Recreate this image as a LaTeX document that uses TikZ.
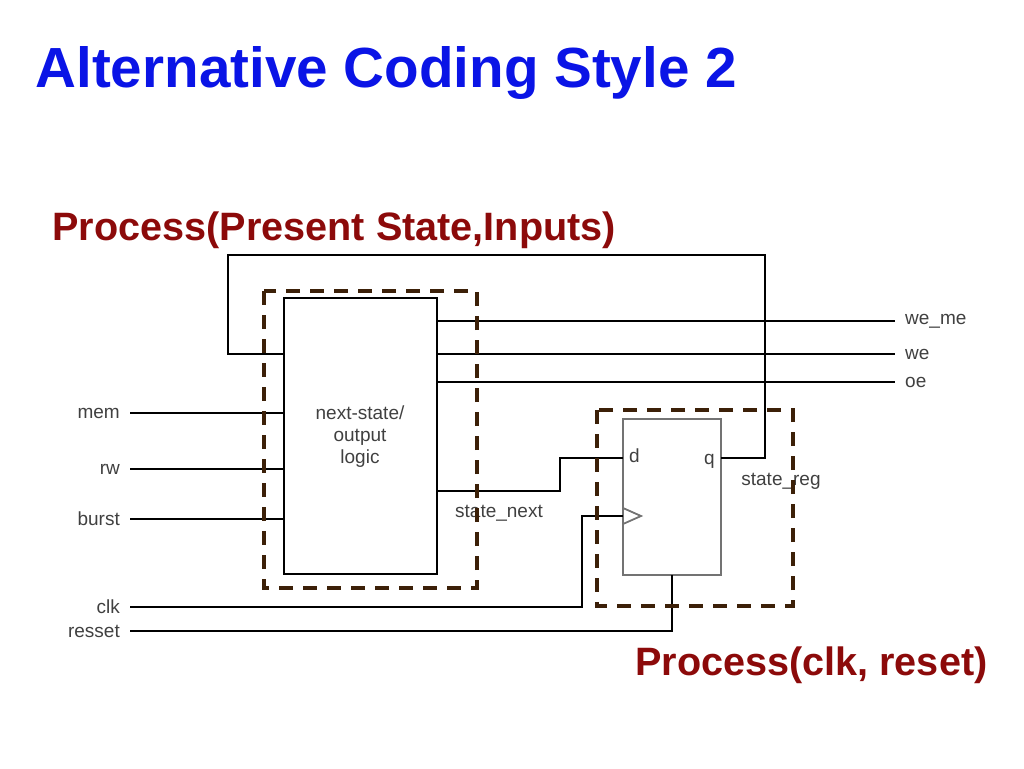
\documentclass[tikz,border=0pt]{standalone}
\usepackage{fontspec}
\setmainfont{Liberation Sans}
\usetikzlibrary{positioning}
\definecolor{titleblue}{RGB}{10,20,230}
\definecolor{procred}{RGB}{140,10,10}
\definecolor{dashbrown}{RGB}{60,32,8}
\tikzset{
    wire/.style={line width=2.2pt},
    grouping/.style={dashbrown,line width=3.2pt,dash pattern=on 14pt off 10pt},
    sig/.style={font=\fontsize{19}{22}\selectfont,text=black!75,inner sep=2pt}
}
\begin{document}
\begin{tikzpicture}[x=1pt,y=-1pt]
    \useasboundingbox (0,0) rectangle (1024,768);
    % headings
    \node[anchor=west,text=titleblue,font=\fontsize{56.6}{62}\selectfont\bfseries] (title) at (32,73) {Alternative Coding Style 2};
    \node[anchor=west,text=procred,font=\fontsize{39.6}{44}\selectfont\bfseries] (comb) at (49,230) {Process(Present State,Inputs)};
    \node[anchor=east,text=procred,font=\fontsize{39.6}{44}\selectfont\bfseries] (seq) at (991,665) {Process(clk, reset)};
    % blocks
    \draw[wire] (284,298) rectangle (437,574);
    \node[sig,align=center] (logic) at (360,437) {next-state/\\output\\logic};
    \draw[black!55,line width=1.8pt] (623,419) rectangle (721,575);
    \draw[black!55,line width=1.8pt] (623,508) -- (641,516) -- (623,524);
    \node[sig,anchor=west] (d) at (627,456) {d};
    \node[sig,anchor=east] (q) at (717,461) {q};
    % inputs
    \foreach \name/\y in {mem/413,rw/469,burst/519}{
        \coordinate (\name) at (130,\y);
        \node[sig,anchor=east] at (122,\y) {\name};
        \draw[wire] (\name) -- (284,\y);
    }
    % outputs
    \foreach \name/\lab/\y in {weme/we\_me/321,we/we/354,oe/oe/382}{
        \coordinate (\name) at (895,\y);
        \node[sig,anchor=west] at (903,\y) {\lab};
        \draw[wire] (437,\y) -- (\name);
    }
    % feedback and register wiring
    \draw[wire] (721,458) -- (765,458) -- (765,255) -- (228,255) -- (228,354) -- (284,354);
    \draw[wire] (437,491) -- (560,491) -- (560,458) -- (623,458);
    \coordinate (clk) at (130,607);
    \coordinate (rst) at (130,631);
    \node[sig,anchor=east] at (122,607) {clk};
    \node[sig,anchor=east] at (122,631) {resset};
    \draw[wire] (clk) -- (582,607) -- (582,516) -- (623,516);
    \draw[wire] (rst) -- (672,631) -- (672,575);
    \node[sig] (snext) at (499,513) {state\_next};
    \node[sig] (sreg) at (781,481) {state\_reg};
    % process groupings
    \draw[grouping] (264,291) rectangle (477,588);
    \draw[grouping] (597,410) rectangle (793,606);
\end{tikzpicture}
\end{document}
